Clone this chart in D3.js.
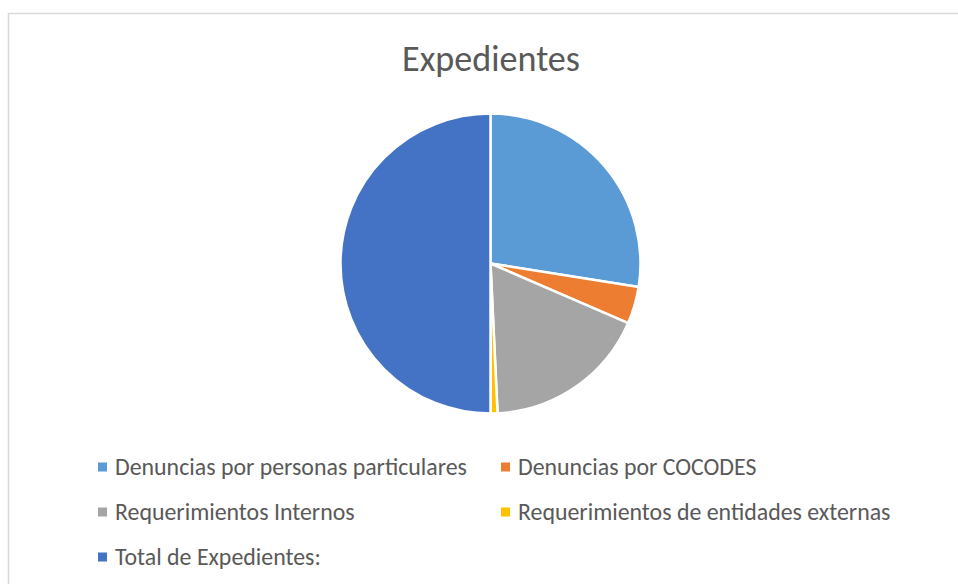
<!DOCTYPE html>
<html>
<head>
<meta charset="utf-8">
<script src="https://cdn.jsdelivr.net/npm/d3@7"></script>
<style>
  body { margin: 0; background: #fff; }
</style>
</head>
<body>
<script>
'use strict';

// chart data
const categories = [
  "Denuncias por personas particulares",
  "Denuncias por COCODES",
  "Requerimientos Internos",
  "Requerimientos de entidades externas",
  "Total de Expedientes:"
];
const values = [110, 16, 71, 3, 200];
const colors = ["#5b9bd5", "#ed7d31", "#a5a5a5", "#ffc000", "#4472c4"];
const title = "Expedientes";

const width = 958, height = 584;
const font = "Carlito, 'Open Sans', 'Noto Sans', sans-serif";

const svg = d3.select('body')
  .append('svg')
  .attr('width', width)
  .attr('height', height);

// chart area border
svg.append('rect')
  .attr('x', 8.5)
  .attr('y', 13.5)
  .attr('width', 1000)
  .attr('height', 1000)
  .style('fill', 'none')
  .style('stroke', '#d9d9d9')
  .style('stroke-width', 1.5);

// title
const titleText = svg.append('text')
  .attr('x', 491)
  .attr('y', 71)
  .attr('text-anchor', 'middle')
  .style('font-family', font)
  .style('font-size', '31px')
  .style('fill', '#595959')
  .text(title);
// fit title width to the reference (~178px)
const tw = titleText.node().getComputedTextLength();
titleText.style('font-size', (31 * 178 / tw).toFixed(2) + 'px');

// pie
const cx = 490.5, cy = 263.5, radius = 150;
const pie = d3.pie().sort(null).value(d => d.value);
const arc = d3.arc().innerRadius(0).outerRadius(radius);
const rows = categories.map((c, i) => ({ name: c, value: values[i], color: colors[i] }));

svg.append('g')
  .attr('transform', `translate(${cx}, ${cy})`)
  .selectAll('path')
  .data(pie(rows))
  .enter()
  .append('path')
  .attr('d', arc)
  .style('fill', d => d.data.color)
  .style('stroke', '#fff')
  .style('stroke-width', 2.5)
  .style('stroke-linejoin', 'round');

// legend
const legendCols = [98, 501];
const legendRows = [467, 512, 557];
const legend = svg.append('g');
rows.forEach((d, i) => {
  const x = legendCols[i % 2];
  const y = legendRows[Math.floor(i / 2)];
  legend.append('rect')
    .attr('x', x)
    .attr('y', y - 4.5)
    .attr('width', 9)
    .attr('height', 9)
    .style('fill', d.color);
  legend.append('text')
    .attr('class', 'lg')
    .attr('x', x + 17)
    .attr('y', y + 8)
    .style('font-family', font)
    .style('font-size', '19px')
    .style('fill', '#595959')
    .text(d.name);
});

// fit legend font so first label spans like the reference (~352px)
const first = legend.select('text.lg').node();
const w = first.getComputedTextLength();
const size = 19 * 352 / w;
legend.selectAll('text.lg').style('font-size', size.toFixed(2) + 'px');
</script>
</body>
</html>
